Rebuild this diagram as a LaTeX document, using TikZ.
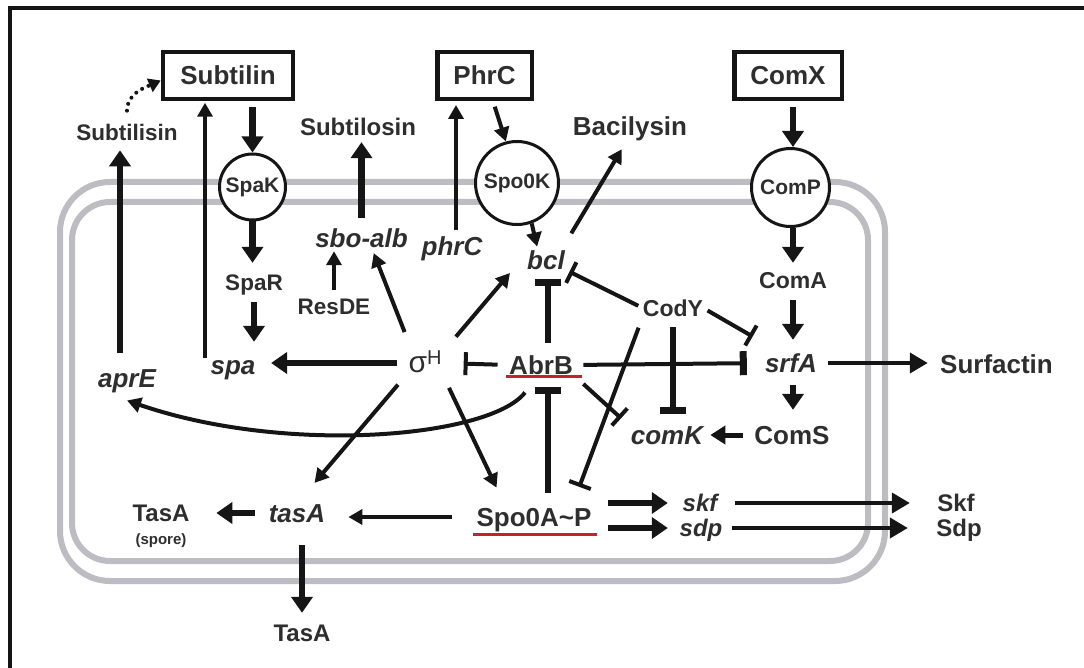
\documentclass[tikz,border=0pt]{standalone}
\usepackage{fontspec}
\setmainfont{Liberation Sans}
\usetikzlibrary{arrows.meta,calc}
\definecolor{txt}{HTML}{2E2E2E}
\definecolor{ink}{HTML}{151515}
\definecolor{memc}{RGB}{188,188,194}
\definecolor{redl}{HTML}{C8202E}
\begin{document}
\begin{tikzpicture}[x=1pt,y=-1pt,
  L26/.style={inner sep=0pt, text depth=0pt, text height=18.6pt, text=txt, font=\fontsize{26}{28}\selectfont\bfseries},
  L24/.style={inner sep=0pt, text depth=0pt, text height=17.2pt, text=txt, font=\fontsize{24}{26}\selectfont\bfseries},
  L23/.style={inner sep=0pt, text depth=0pt, text height=16.5pt, text=txt, font=\fontsize{23}{25}\selectfont\bfseries},
  L22/.style={inner sep=0pt, text depth=0pt, text height=16.2pt, text=txt, font=\fontsize{22.5}{24}\selectfont\bfseries},
  box/.style={draw=ink, line width=4.5pt, minimum height=47pt, inner sep=0pt, fill=white, text=txt, font=\fontsize{26}{28}\selectfont\bfseries},
  circ/.style={circle, draw=ink, line width=3pt, fill=white, inner sep=0pt, text=txt, font=\fontsize{21}{22}\selectfont\bfseries},
  ar/.style={draw=ink, line width=4pt, -{Triangle[length=14pt,width=15pt]}},
  ar2/.style={draw=ink, line width=4pt, -{Triangle[length=18pt,width=20pt]}},
  thk/.style={draw=ink, line width=6.5pt, -{Triangle[length=16pt,width=21pt]}},
  inh/.style={draw=ink, line width=4pt, -{Bar[width=23pt]}},
  thkinh/.style={draw=ink, line width=6.5pt, -{Bar[width=26pt]}},
  membrane/.style={draw=memc, line width=6pt},
  ul/.style={draw=redl, line width=3pt}
]
\useasboundingbox (0,0) rectangle (1084,668);
% membrane
\draw[membrane, rounded corners=50pt] (60,182) rectangle (885,581);
\draw[membrane, rounded corners=38pt] (72,202) rectangle (868,561);
% frame
\draw[ink, line width=4pt] (9.5,668) -- (9.5,8) -- (1084,8);

% boxes and receptors
\node[box, minimum width=130pt] (subtilin) at (228,75.5) {Subtilin};
\node[box, minimum width=94.5pt] (phrcbox) at (484.5,75.5) {PhrC};
\node[box, minimum width=107.5pt] (comx) at (788,75.5) {ComX};
\node[circ, minimum size=66pt] (spak) at (252.5,187) {SpaK};
\node[circ, minimum size=83pt] (spo0k) at (517,183) {Spo0K};
\node[circ, minimum size=78pt] (comp) at (790.5,187.5) {ComP};

% labels
\node[L22] (subtilisin) at (127,132) {Subtilisin};
\node[L24] (subtilosin) at (358,127) {Subtilosin};
\node[L26] (bacilysin) at (630,126) {Bacilysin};
\node[L26] (sboalb) at (361.5,238) {\itshape sbo-alb};
\node[L26] (phrc) at (452,246) {\itshape phrC};
\node[L26] (bcl) at (546,260) {\itshape bcl};
\node[L22] (spar) at (254,282) {SpaR};
\node[L22] (resde) at (334,306) {ResDE};
\node[L26] (spa) at (233,365) {\itshape spa};
\node[L26] (apre) at (127,378) {\itshape aprE};
\node[L26, font=\fontsize{30}{30}\selectfont] (sigma) at (425,363) {σ\raisebox{8pt}{\fontsize{20}{20}\selectfont H}};
\node[L26] (abrb) at (541,365) {AbrB};
\node[L23] (cody) at (673,308) {CodY};
\node[L26] (comk) at (667,435) {\itshape comK};
\node[L23] (coma) at (793,280) {ComA};
\node[L26] (srfa) at (791,363) {\itshape srfA};
\node[L26] (surfactin) at (996.5,364) {Surfactin};
\node[L26] (coms) at (792,435) {ComS};
\node[L26] (spo0a) at (534,517) {Spo0A\textasciitilde P};
\node[L26] (tasa) at (297,513) {\itshape tasA};
\node[L24] (tasasp) at (161,513) {TasA};
\node[inner sep=0pt, text=txt, font=\fontsize{15}{16}\selectfont\bfseries] (spore) at (161,541) {(spore)};
\node[L24] (tasa2) at (302,633) {TasA};
\node[L24] (skf) at (700,503) {\itshape skf};
\node[L24] (sdp) at (701,528) {\itshape sdp};
\node[L24] (skfp) at (956,503) {Skf};
\node[L24] (sdpp) at (959,528) {Sdp};

% red underlines
\draw[ul] ([xshift=-3pt,yshift=-2pt]abrb.south west) -- ([xshift=9pt,yshift=-2pt]abrb.south east);
\draw[ul] ([xshift=-3pt,yshift=-8pt]spo0a.south west) -- ([xshift=5pt,yshift=-8pt]spo0a.south east);

% connectors
\draw[draw=ink, line width=4pt, dash pattern=on 0pt off 7pt, line cap=round, -{Triangle[length=12pt,width=14pt]}, shorten <=13pt]
  (subtilisin.north) .. controls ($(subtilisin.north)+(0,-30)$) and ($(subtilin.west)+(-16,12)$) .. ([yshift=-5pt]subtilin.west);
\draw[thk, shorten <=15.7pt, shorten >=10pt] ([xshift=-7pt]apre.north) -- ([xshift=-7pt]apre.north |- subtilisin.south);
\draw[ar, shorten <=-2.7pt, shorten >=1.5pt] ([xshift=-28pt]spa.north) -- ([xshift=-28pt]spa.north |- subtilin.south);
\draw[thk, shorten <=5.75pt] (spak.north |- subtilin.south) -- (spak.north);
\draw[thk, shorten >=10.9pt] (spak.south) -- (spak.south |- spar.north);
\draw[thk, shorten <=11.9pt, shorten >=13.7pt] (spar.south) -- (spar.south |- spa.north);
\draw[thk, shorten <=11pt, shorten >=15.5pt] (sigma.west) -- (sigma.west -| spa.east);
\draw[ar, shorten <=23pt, shorten >=6pt] ([xshift=-12pt]sigma.north) -- ([xshift=10pt]sboalb.south);
\draw[ar, shorten <=8pt, shorten >=3.7pt] (resde.north) -- (resde.north |- sboalb.south);
\draw[thk, shorten <=10.7pt, shorten >=6.4pt] (sboalb.north) -- (sboalb.north |- subtilosin.south);
\draw[ar, shorten <=6.7pt, shorten >=3.75pt] ([xshift=4pt]phrc.north) -- ([xshift=4pt]phrc.north |- phrcbox.south);
\draw[ar, shorten <=5.75pt] ([xshift=8.5pt]phrcbox.south) -- (spo0k.105);
\draw[ar, shorten >=4pt] (spo0k.290) -- ([xshift=-8pt]bcl.north);
\draw[ar, shorten <=20pt, shorten >=16pt] ([xshift=15pt]bcl.north) -- (bacilysin.south);
\draw[ar, shorten <=22pt, shorten >=17pt] (sigma.north east) -- ([xshift=-6pt]bcl.west);
\draw[thkinh, shorten <=12.7pt, shorten >=9.7pt] ([xshift=7pt]abrb.north) -- ([xshift=7pt]abrb.north |- bcl.south);
\draw[inh, shorten <=5pt, shorten >=5pt] (cody.west) -- (bcl.south east);
\draw[inh, shorten <=5pt, shorten >=14pt] (cody.east) -- ([yshift=10pt]srfa.north west);
\draw[inh, shorten <=11.5pt, shorten >=22pt] (abrb.west) -- (sigma.east);
\draw[draw=ink, line width=4pt, -{Bar[width=24pt,line width=7pt]}, shorten <=10.5pt, shorten >=18pt] (abrb.east) -- (srfa.west);
\draw[thkinh, shorten <=10.75pt, shorten >=11.7pt] (cody.south) -- (cody.south |- comk.north);
\draw[inh, shorten <=14pt, shorten >=13pt] (abrb.south east) -- ([yshift=8pt]comk.west);
\draw[inh, shorten <=12pt, shorten >=22pt] (cody.south west) -- ([xshift=-20pt]spo0a.north east);
\draw[thkinh, shorten <=14.7pt, shorten >=12.7pt] ([xshift=14pt]spo0a.north) -- ([xshift=14pt]spo0a.north |- abrb.south);
\draw[ar, shorten <=17pt, shorten >=22pt] (sigma.south east) -- ([xshift=-28pt]spo0a.north);
\draw[ar, shorten <=16pt, shorten >=27pt] (sigma.south west) -- (tasa.north);
\draw[ar] ([xshift=-16pt,yshift=-18pt]abrb.south) .. controls ($(abrb.south)+(-51,63)$) and ($(apre.south)+(160,68)$) .. ([yshift=-13pt]apre.south);
\draw[ar, shorten <=24.5pt, shorten >=23pt] (spo0a.west) -- (spo0a.west -| tasa.east);
\draw[thk, shorten <=14pt, shorten >=26.7pt] (tasa.west) -- (tasa.west -| tasasp.east);
\draw[thk, shorten <=22.7pt, shorten >=11.4pt] ([xshift=5pt]tasa.south) -- ([xshift=5pt]tasa.south |- tasa2.north);
\draw[thk, shorten <=16.5pt, shorten >=14.7pt] (skf.west -| spo0a.east) -- (skf.west);
\draw[thk, shorten <=16.5pt, shorten >=11.7pt] (sdp.west -| spo0a.east) -- (sdp.west);
\draw[ar2, shorten <=17.7pt, shorten >=27.3pt] (skf.east) -- (skfp.west);
\draw[ar2, shorten <=9.7pt, shorten >=28.3pt] (sdp.east) -- (sdpp.west);
\draw[thk, shorten <=5.75pt] (coma.north |- comx.south) -- (coma.north |- comp.north);
\draw[thk, shorten >=8.75pt] (coma.north |- comp.south) -- (coma.north);
\draw[thk, shorten <=11.75pt, shorten >=13.7pt] (coma.south) -- (coma.south |- srfa.north);
\draw[ar2, shorten <=11pt, shorten >=12.2pt] (srfa.east) -- (srfa.east -| surfactin.west);
\draw[thk, shorten <=12.7pt, shorten >=15.7pt] (srfa.south -| coma.south) -- (coms.north -| coma.south);
\draw[ar, line width=5pt, -{Triangle[length=15pt,width=18pt]}, shorten <=11.5pt, shorten >=7pt] (coms.west) -- (comk.east);
\end{tikzpicture}
\end{document}
